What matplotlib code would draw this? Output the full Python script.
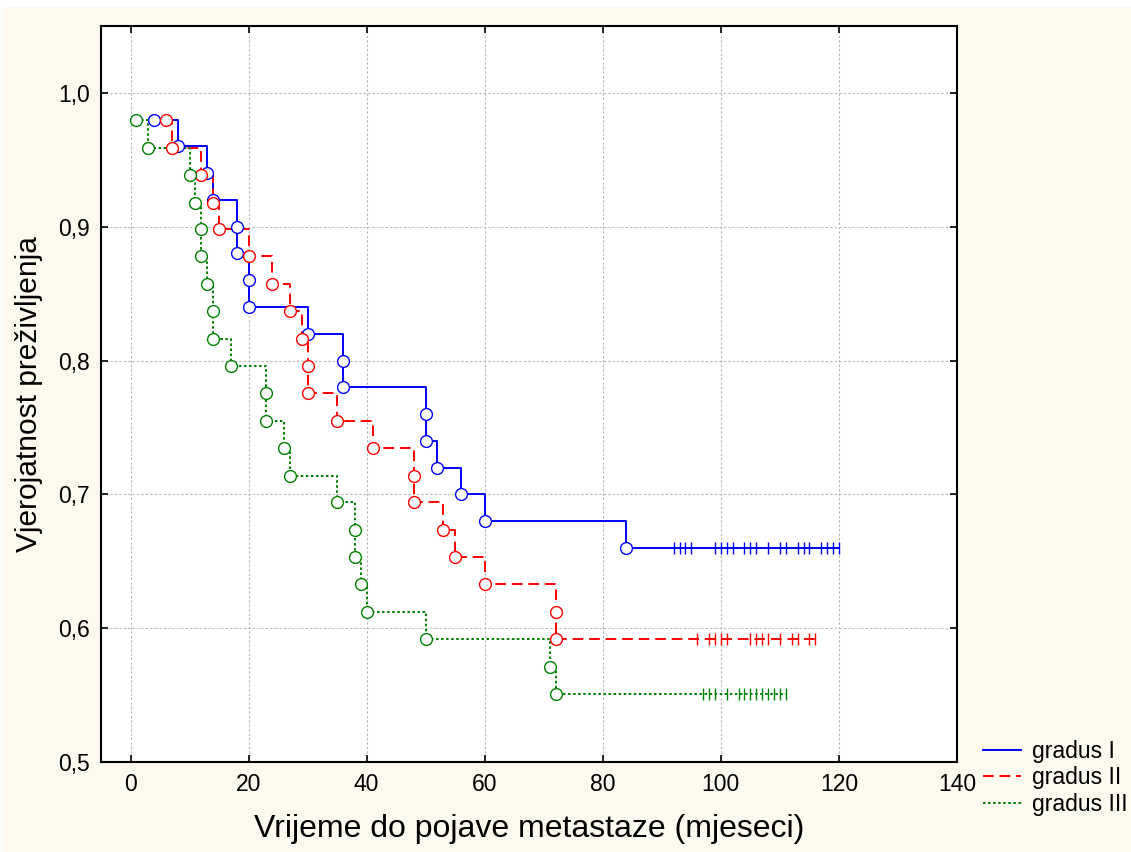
import matplotlib
matplotlib.use("Agg")
import matplotlib.pyplot as plt
from matplotlib.patches import Rectangle
from matplotlib.ticker import FuncFormatter

plt.rcParams['font.family'] = ['Liberation Sans', 'DejaVu Sans']

# ---- data ----
labels = ["gradus I", "gradus II", "gradus III"]

g1_times = [4, 8, 13, 14, 18, 18, 20, 20, 30, 36, 36, 50, 50, 52, 56, 60, 84]
g1_surv = [0.98, 0.96, 0.94, 0.92, 0.90, 0.88, 0.86, 0.84, 0.82, 0.80, 0.78,
           0.76, 0.74, 0.72, 0.70, 0.68, 0.66]
g1_cens = [92, 93, 94, 95, 99, 100, 101, 102, 104, 105, 106, 108, 110, 111,
           113, 114, 115, 117, 118, 119, 120]

g2_times = [6, 7, 12, 14, 15, 20, 24, 27, 29, 30, 30, 35, 41, 48, 48, 53, 55,
            60, 72, 72]
g2_surv = [0.980, 0.959, 0.939, 0.918, 0.898, 0.878, 0.857, 0.837, 0.816,
           0.796, 0.776, 0.755, 0.735, 0.714, 0.694, 0.673, 0.653, 0.633,
           0.612, 0.592]
g2_cens = [96, 98, 99, 100, 101, 105, 106, 107, 108, 110, 112, 113, 115, 116]

g3_times = [1, 3, 10, 11, 12, 12, 13, 14, 14, 17, 23, 23, 26, 27, 35, 38, 38,
            39, 40, 50, 71, 72]
g3_surv = [0.980, 0.959, 0.939, 0.918, 0.898, 0.878, 0.857, 0.837, 0.816,
           0.796, 0.776, 0.755, 0.735, 0.714, 0.694, 0.673, 0.653, 0.633,
           0.612, 0.592, 0.571, 0.551]
g3_cens = [97, 98, 99, 101, 103, 104, 105, 106, 107, 108, 109, 110, 111]

x_ticks = [0, 20, 40, 60, 80, 100, 120, 140]
y_ticks = [0.5, 0.6, 0.7, 0.8, 0.9, 1.0]

series = [
    (g1_times, g1_surv, g1_cens, "#0000ff", "-"),
    (g2_times, g2_surv, g2_cens, "#ff0000", (0, (5.5, 3))),
    (g3_times, g3_surv, g3_cens, "#008000", (0, (1.3, 1.3))),
]

# ---- figure ----
fig = plt.figure(figsize=(11.31, 8.52), dpi=100, facecolor="white")
fig.patches.append(Rectangle((3 / 1131, 0), 1 - 3 / 1131, 1 - 7 / 852,
                             transform=fig.transFigure, facecolor="#fef9ee",
                             edgecolor="none", zorder=-10))
ax = fig.add_axes([101 / 1131, 90 / 852, (957 - 101) / 1131, (762 - 26) / 852])
ax.set_facecolor("white")

handles = []
for (t, s, c, col, ls), lab in zip(series, labels):
    xs = list(t) + [c[-1]]
    ys = list(s) + [s[-1]]
    ln, = ax.step(xs, ys, where="post", color=col, linestyle=ls, lw=1.4,
                  zorder=3, label=lab)
    handles.append(ln)
    ax.plot(t, s, linestyle="none", marker="o", ms=8.5, mfc="white",
            mec=col, mew=1.0, zorder=5)
    ax.plot(c, [s[-1]] * len(c), linestyle="none", marker="|", ms=8,
            mec=col, mew=1.0, zorder=4)

ax.set_xlim(-5, 140)
ax.set_ylim(0.5, 1.05)
ax.set_xticks(x_ticks)
ax.set_yticks(y_ticks)
ax.yaxis.set_major_formatter(FuncFormatter(lambda v, p: f"{v:.1f}".replace(".", ",")))
ax.grid(True, color="#b4b4b4", linestyle=(0, (2, 2)), lw=0.8, zorder=0)
ax.tick_params(direction="in", length=5, width=1.2, top=True, right=True,
               labelsize=16.5, pad=8)
for sp in ax.spines.values():
    sp.set_linewidth(1.5)

ax.set_xlabel("Vrijeme do pojave metastaze (mjeseci)", fontsize=23, labelpad=13)
ax.set_ylabel("Vjerojatnost preživljenja", fontsize=21.5, labelpad=11)

leg = fig.legend(handles=handles, labels=labels, loc="upper left",
                 bbox_to_anchor=(983 / 1131, 1 - 740 / 852), frameon=False,
                 fontsize=16.5, handlelength=1.65, handletextpad=0.5,
                 labelspacing=0.15, borderpad=0, borderaxespad=0)

fig.savefig("out.png", dpi=100, facecolor=fig.get_facecolor())
